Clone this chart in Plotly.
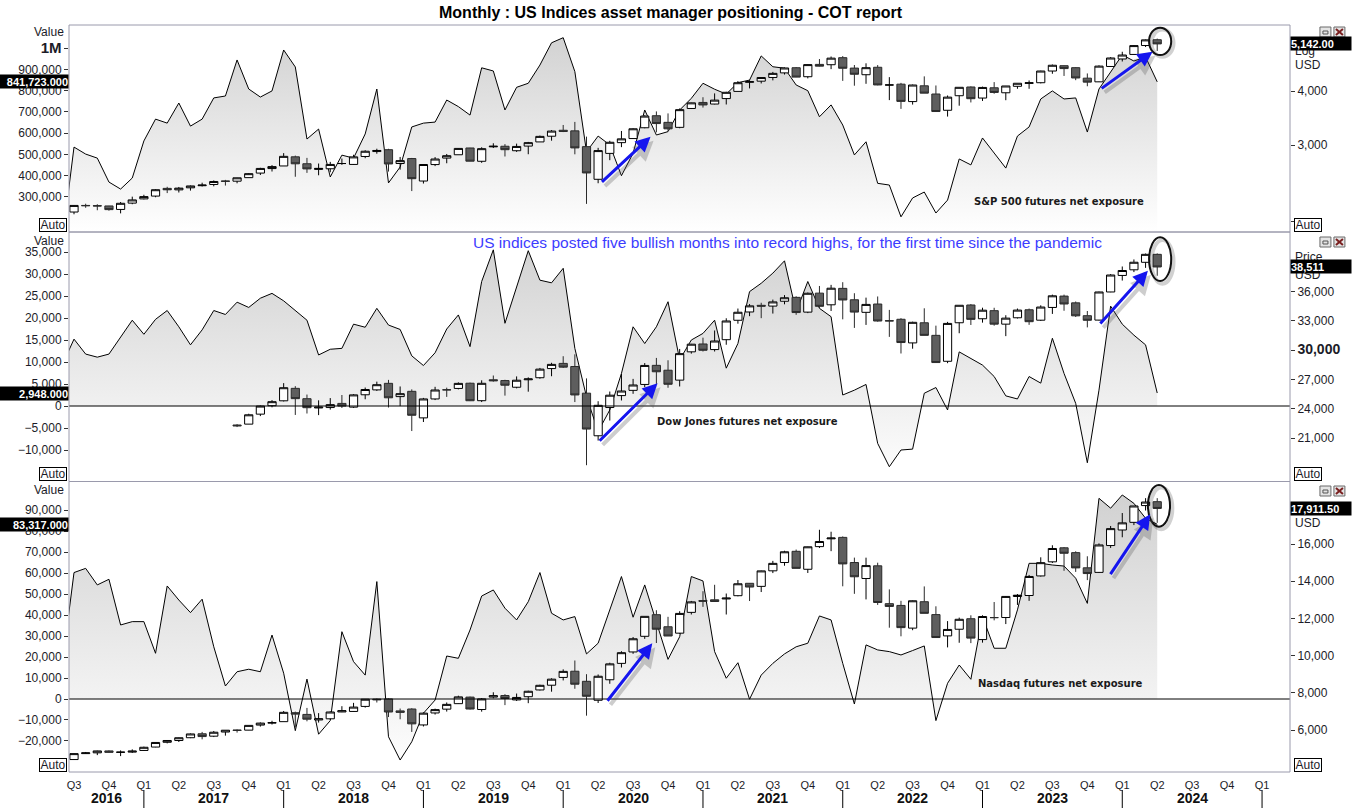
import math
import plotly.graph_objects as go

# ---------------- data ----------------
# month index: 0 = Jul 2016 ... 93 = Apr 2024
net_months = list(range(-1, 94))      # net exposure series (Jun 2016 .. Apr 2024)
price_months = list(range(0, 94))     # S&P / Nasdaq candles (Jul 2016 .. Apr 2024)
dow_months = list(range(14, 94))      # Dow candles (Sep 2017 .. Apr 2024)

spx_net = [95000,
    534000, 501000, 482000, 369000, 336000, 388000,
    563000, 666000, 647000, 742000, 633000, 666000,
    766000, 775000, 945000, 808000, 770000, 799000,
    992000, 912000, 572000, 619000, 393000, 496000,
    482000, 596000, 808000, 365000, 440000, 629000,
    647000, 652000, 756000, 725000, 685000, 908000,
    893000, 709000, 816000, 835000, 921000, 1026000,
    1050000, 890000, 512000, 586000, 544000, 399000,
    505000, 709000, 591000, 607000, 709000, 764000,
    835000, 807000, 784000, 838000, 850000, 964000,
    913000, 906000, 827000, 800000, 677000, 733000,
    638000, 497000, 559000, 363000, 355000, 205000,
    294000, 322000, 223000, 284000, 478000, 450000,
    577000, 506000, 435000, 586000, 629000, 761000,
    799000, 761000, 766000, 605000, 808000, 888000,
    969000, 940000, 959000, 841723]

dow_net = [9400,
    15200, 11800, 11100, 11800, 15600, 19500,
    16300, 19700, 21700, 18000, 13900, 17300,
    21700, 20800, 23600, 22400, 24500, 25600,
    23900, 21800, 19500, 11600, 12900, 13100,
    18600, 17900, 22200, 18400, 17400, 11400,
    9200, 12100, 17500, 20700, 13500, 28300,
    35500, 18800, 27100, 35300, 28600, 28000,
    31300, 13100, 2100, -5800, -900, 7400,
    18000, 14200, 18000, 23700, 10500, 15000,
    16500, 19500, 8600, 14200, 26000, 27900,
    30200, 33000, 21400, 28300, 22200, 20300,
    2500, 3600, 4900, -8500, -13800, -10000,
    -9800, 2900, 4200, -900, 12300, 10800,
    9300, 6700, 2300, 1600, 6700, 5200,
    15400, 7400, 600, -12900, 3600, 22700,
    18600, 16100, 13900, 2948]

ndx_net = [16700,
    60300, 62300, 54400, 57100, 35300, 36900,
    36900, 21800, 53900, 47200, 41200, 47600,
    24900, 6200, 13000, 14200, 13000, 30500,
    12300, -15100, 9500, -16800, -10300, 32100,
    17800, 11400, 56000, -18000, -29100, -20400,
    -6800, -500, 20500, 19400, 32900, 49100,
    52000, 43300, 37700, 46400, 60300, 40900,
    37700, 39300, 21500, 26600, 42500, 58400,
    39000, 54400, 36700, 18900, 29700, 58400,
    56300, 22600, 9900, 17300, -100, 11400,
    17000, 21500, 24900, 26600, 39600, 37700,
    17000, -2400, 25800, 23400, 22600, 21000,
    23100, 25300, -10300, 7500, 16200, 9400,
    39300, 24200, 24200, 42500, 64700, 64700,
    63900, 63400, 57600, 45600, 95700, 91000,
    97300, 93300, 86200, 83317]

spx_open = [2099, 2174, 2171, 2168, 2128, 2201,
    2251, 2285, 2381, 2362, 2388, 2415, 2431, 2477, 2474, 2521, 2583, 2646,
    2683, 2817, 2715, 2634, 2643, 2718, 2705, 2822, 2897, 2926, 2718, 2791,
    2476, 2703, 2798, 2848, 2953, 2751, 2971, 2980, 2910, 2983, 3050, 3144,
    3245, 3235, 2974, 2499, 2869, 3038, 3105, 3289, 3507, 3385, 3296, 3645,
    3764, 3732, 3842, 3992, 4191, 4216, 4300, 4406, 4529, 4317, 4610, 4602,
    4778, 4520, 4363, 4540, 4130, 4149, 3781, 4113, 3937, 3610, 3901, 4087,
    3853, 4070, 3963, 4102, 4166, 4181, 4450, 4578, 4530, 4284, 4201, 4559,
    4745, 4861, 5098, 5258]
spx_high = [2178, 2194, 2188, 2169, 2214, 2278,
    2301, 2371, 2401, 2399, 2418, 2454, 2484, 2491, 2520, 2582, 2657, 2695,
    2873, 2835, 2801, 2718, 2742, 2791, 2848, 2917, 2941, 2940, 2815, 2800,
    2708, 2813, 2860, 2950, 2955, 2964, 3028, 3014, 3022, 3050, 3155, 3248,
    3338, 3393, 3137, 2955, 3068, 3233, 3280, 3514, 3588, 3550, 3646, 3760,
    3870, 3950, 3983, 4218, 4238, 4302, 4429, 4537, 4546, 4608, 4744, 4808,
    4819, 4595, 4637, 4593, 4307, 4178, 4140, 4325, 4120, 3906, 4080, 4101,
    4095, 4195, 4110, 4170, 4232, 4458, 4607, 4584, 4541, 4393, 4587, 4793,
    4931, 5111, 5265, 5290]
spx_low = [2074, 2147, 2119, 2114, 2084, 2188,
    2245, 2271, 2322, 2329, 2353, 2405, 2407, 2417, 2446, 2520, 2557, 2605,
    2683, 2533, 2586, 2553, 2594, 2699, 2698, 2796, 2864, 2604, 2631, 2347,
    2443, 2681, 2722, 2848, 2751, 2728, 2952, 2822, 2892, 2856, 3050, 3070,
    3214, 2855, 2192, 2447, 2767, 2966, 3101, 3280, 3210, 3234, 3280, 3634,
    3662, 3725, 3723, 3992, 4056, 4165, 4234, 4367, 4306, 4279, 4560, 4495,
    4222, 4115, 4157, 4124, 3811, 3637, 3721, 3955, 3584, 3491, 3699, 3764,
    3794, 3943, 3809, 4048, 4048, 4166, 4385, 4335, 4238, 4103, 4197, 4547,
    4682, 4854, 5057, 4953]
spx_close = [2174, 2171, 2168, 2126, 2199, 2239,
    2279, 2364, 2363, 2384, 2412, 2423, 2470, 2472, 2519, 2575, 2648, 2674,
    2824, 2714, 2641, 2648, 2705, 2718, 2816, 2902, 2914, 2712, 2760, 2507,
    2704, 2784, 2834, 2946, 2752, 2942, 2980, 2926, 2977, 3038, 3141, 3231,
    3226, 2954, 2585, 2912, 3044, 3100, 3271, 3500, 3363, 3270, 3622, 3756,
    3714, 3811, 3973, 4181, 4204, 4298, 4395, 4523, 4308, 4605, 4567, 4766,
    4516, 4374, 4530, 4132, 4132, 3785, 4130, 3955, 3586, 3872, 4080, 3840,
    4077, 3970, 4109, 4169, 4180, 4450, 4589, 4508, 4288, 4194, 4568, 4770,
    4846, 5096, 5254, 5142]

dow_open = [22330, 22420, 23442, 24305,
    24809, 26084, 25024, 24076, 24117, 24542, 24161, 25426, 25926, 26598, 25237, 25780,
    23059, 24999, 25942, 26076, 26609, 24819, 26964, 26882, 26198, 26962, 27172, 28109,
    28639, 28320, 25591, 21227, 24120, 25342, 25879, 26483, 28439, 27940, 26925, 29823,
    30627, 30055, 31066, 33054, 33904, 34584, 34507, 35003, 35400, 33889, 35833, 34639,
    36322, 35153, 33868, 34718, 33009, 33156, 30737, 32798, 31511, 28855, 32800, 34619,
    33209, 34039, 32658, 33311, 34132, 33063, 34368, 35531, 34838, 33524, 33072, 35951,
    37644, 38222, 38990, 39807]
dow_high = [22420, 23485, 24328, 24877,
    26617, 26307, 25449, 24858, 25087, 25403, 25491, 26167, 26770, 26951, 26277, 25980,
    25106, 26241, 26155, 26696, 26669, 26907, 27399, 26962, 27306, 27209, 28175, 28702,
    29374, 29568, 27102, 24765, 25758, 27580, 27053, 28672, 29199, 28958, 30117, 30637,
    31272, 32010, 33259, 34256, 34712, 34849, 35171, 35631, 35510, 35892, 36566, 36680,
    36953, 35824, 35373, 35492, 34117, 33272, 32910, 34281, 32504, 32889, 34590, 34712,
    34342, 34335, 33572, 34257, 34257, 34588, 35679, 35679, 34977, 34004, 35986, 37778,
    38561, 39282, 39889, 39900]
dow_low = [22120, 22416, 23242, 24141,
    24742, 23360, 23509, 23344, 23908, 24077, 24078, 24965, 25823, 24122, 24268, 21713,
    22638, 24883, 25208, 25980, 24784, 24680, 26772, 25339, 26082, 25743, 27070, 27325,
    28169, 24681, 18214, 20735, 22789, 24843, 25524, 26211, 26537, 26144, 26277, 29639,
    29857, 29857, 30547, 32705, 33474, 33271, 33742, 34690, 33613, 33785, 34318, 34006,
    33150, 32272, 32579, 32913, 31353, 29653, 30143, 31510, 28715, 28661, 31727, 32573,
    32812, 32500, 31430, 33235, 32586, 32979, 33705, 34030, 33392, 32327, 33030, 35930,
    37122, 37990, 38421, 37611]
dow_close = [22250, 23377, 24272, 24719,
    26149, 25029, 24103, 24163, 24416, 24271, 25415, 25965, 26458, 25116, 25538, 23327,
    24999, 25916, 25929, 26593, 24815, 26600, 26864, 26403, 26917, 27046, 28051, 28538,
    28256, 25409, 21917, 24346, 25383, 25813, 26428, 28430, 27782, 26502, 29638, 30606,
    29983, 30932, 32982, 33875, 34529, 34503, 34935, 35361, 33844, 35820, 34484, 36338,
    35132, 33893, 34678, 32977, 32990, 30775, 32845, 31510, 28726, 32733, 34590, 33147,
    34086, 32657, 33274, 34098, 32908, 34408, 35560, 34722, 33508, 33053, 35951, 37690,
    38150, 38996, 39807, 38511]

ndx_open = [4411, 4730, 4772, 4876, 4800, 4811,
    4900, 5083, 5340, 5434, 5585, 5797, 5668, 5891, 5999, 5992, 6265, 6371,
    6448, 6931, 6838, 6540, 6602, 6971, 6998, 7268, 7660, 7671, 7028, 7129,
    6272, 6916, 7121, 7416, 7769, 7101, 7770, 7853, 7617, 7790, 8154, 8408,
    8827, 9160, 8618, 7599, 8701, 9583, 10196, 11037, 12199, 11551, 11206, 12324,
    12958, 13000, 13045, 13221, 13887, 13722, 14558, 15004, 15607, 14641, 15859, 16278,
    16356, 15004, 14144, 14827, 12792, 12697, 11478, 12897, 12204, 11059, 11417, 11982,
    10862, 12045, 12047, 13178, 13231, 14283, 15041, 15795, 15536, 14720, 14474, 15917,
    16753, 17165, 18065, 18275]
ndx_high = [4740, 4819, 4891, 4908, 4902, 4960,
    5106, 5330, 5457, 5597, 5815, 5897, 5947, 5990, 6030, 6250, 6408, 6497,
    7022, 6988, 7187, 6907, 7003, 7280, 7459, 7663, 7691, 7700, 7154, 7168,
    6947, 7148, 7480, 7844, 7794, 7720, 8028, 7926, 7960, 8113, 8436, 8780,
    9260, 9736, 9000, 8986, 9618, 10235, 10998, 12110, 12439, 12085, 12386, 12939,
    13463, 13807, 13337, 14064, 13903, 14572, 15093, 15637, 15701, 15860, 16765, 16660,
    16407, 15268, 15265, 14995, 13560, 12945, 12966, 13720, 12650, 11855, 12043, 12167,
    12167, 12880, 13204, 13311, 14336, 15284, 15932, 15837, 15607, 15340, 16034, 16969,
    17665, 18042, 18464, 18465]
ndx_low = [4390, 4723, 4650, 4787, 4596, 4764,
    4880, 5071, 5280, 5353, 5563, 5500, 5620, 5697, 5861, 5987, 6184, 6294,
    6448, 6142, 6468, 6400, 6548, 6960, 6982, 7204, 7478, 6697, 6577, 5896,
    6190, 6829, 6991, 7406, 7104, 6986, 7703, 7338, 7560, 7442, 8125, 8059,
    8665, 8216, 6771, 7451, 8486, 9360, 10096, 10900, 10677, 11053, 11167, 12210,
    12620, 12895, 12209, 13186, 12934, 13417, 14436, 14832, 14690, 14442, 15783, 15615,
    13725, 13321, 13021, 12725, 11500, 11037, 11365, 12272, 10971, 10441, 10690, 10671,
    10696, 11896, 11695, 12724, 12943, 14250, 14977, 14557, 14500, 14058, 14446, 15789,
    16361, 17017, 17801, 17138]
ndx_close = [4730, 4771, 4875, 4801, 4810, 4864,
    5071, 5330, 5436, 5584, 5788, 5647, 5880, 5989, 5979, 6248, 6371, 6396,
    6950, 6855, 6581, 6606, 6967, 7040, 7232, 7656, 7627, 6967, 6949, 6330,
    6906, 7097, 7378, 7781, 7128, 7671, 7848, 7692, 7750, 8083, 8403, 8733,
    9151, 8462, 7813, 8890, 9556, 10157, 10905, 12110, 11418, 11053, 12268, 12888,
    12925, 12909, 13091, 13861, 13686, 14554, 14959, 15582, 14690, 15850, 16135, 16320,
    14930, 14238, 14839, 12855, 12643, 11504, 12947, 12272, 10971, 11406, 11952, 10940,
    12102, 12042, 13181, 13246, 14254, 14996, 15758, 15501, 14715, 14410, 15948, 16826,
    17137, 18044, 18255, 17911.5]

quarter_pos = list(range(0, 103, 3))
quarter_labels = ["Q3", "Q4",
    "Q1", "Q2", "Q3", "Q4", "Q1", "Q2", "Q3", "Q4", "Q1", "Q2", "Q3", "Q4",
    "Q1", "Q2", "Q3", "Q4", "Q1", "Q2", "Q3", "Q4", "Q1", "Q2", "Q3", "Q4",
    "Q1", "Q2", "Q3", "Q4", "Q1", "Q2", "Q3", "Q4", "Q1"]
year_labels = ["2016", "2017", "2018", "2019", "2020", "2021", "2022", "2023", "2024"]
year_pos = [2.8, 12, 24, 36, 48, 60, 72, 84, 96]
year_breaks = [6, 18, 30, 42, 54, 66, 78, 90, 102]

spx_left_ticks = [300000, 400000, 500000, 600000, 700000, 800000, 900000, 1000000]
spx_left_text = ["300,000", "400,000", "500,000", "600,000", "700,000", "800,000", "900,000",
                 '<b><span style="font-size:15px">1M</span></b>']
spx_right_ticks = [2000, 3000, 4000]
spx_right_text = ["", "3,000", "4,000"]
dow_left_ticks = [-10000, -5000, 0, 5000, 10000, 15000, 20000, 25000, 30000, 35000]
dow_right_ticks = [21000, 24000, 27000, 30000, 33000, 36000]
dow_right_text = ["21,000", "24,000", "27,000", '<b><span style="font-size:14px">30,000</span></b>',
                  "33,000", "36,000"]
ndx_left_ticks = [-20000, -10000, 0, 10000, 20000, 30000, 40000, 50000, 60000, 70000, 80000, 90000]
ndx_right_ticks = [6000, 8000, 10000, 12000, 14000, 16000]

# annotation arrows: (tail month, tail value) -> (head month, head value) on left axes
spx_arrows = [((45.2, 363000), (49.5, 583000)), ((88.1, 806000), (92.6, 984000))]
dow_arrows = [((45.0, -8250), (50.1, 5160)), ((88.0, 18400), (92.2, 30750))]
ndx_arrows = [((45.7, -1570), (49.65, 26560)), ((88.9, 58800), (92.4, 88080))]
# circles around the last candle: (x0, x1, y0, y1) on left axes
spx_circle = (92.3, 94.2, 968000, 1097000)
dow_circle = (92.3, 94.2, 28400, 38350)
ndx_circle = (92.2, 94.1, 82200, 102000)

# ---------------- geometry ----------------
W, H = 1352, 808
PL, PR, PT, PB = 69, 1292, 25, 772


def fx(p):
    return (p - PL) / (PR - PL)


def fy(p):
    return (PB - p) / (PB - PT)


SPX_DOM = [fy(232), 1.0]
DOW_DOM = [fy(481.5), fy(232)]
NDX_DOM = [0.0, fy(481.5)]

SPX_L = [133490, 1109900]
SPX_R = [math.log10(1887), math.log10(5687)]
DOW_L = [-17160, 39550]
DOW_R = [16546, 42093]
NDX_L = [-34814, 103726]
NDX_R = [3742, 19360]

FONT = "Liberation Sans, Arial, sans-serif"
TF = dict(family=FONT, size=12, color="#1c1c28")
GRAD = [[0.0, "#ffffff"], [1.0, "#cfcfcf"]]
INC = dict(fillcolor="#ffffff", line=dict(color="#000000", width=1))
DEC = dict(fillcolor="#5e5e5e", line=dict(color="#2a2a2a", width=1))

fig = go.Figure()


def add_panel(net, yl, yr, rng, cx, o, h, l, c):
    fig.add_trace(go.Scatter(
        x=net_months, y=net, xaxis="x", yaxis=yl, mode="lines",
        line=dict(color="#000000", width=1), fill="tozeroy",
        fillgradient=dict(type="vertical", colorscale=GRAD, start=rng[0], stop=rng[1]),
        hoverinfo="skip", showlegend=False))
    fig.add_trace(go.Candlestick(
        x=cx, open=o, high=h, low=l, close=c, xaxis="x", yaxis=yr,
        increasing=INC, decreasing=DEC, whiskerwidth=0,
        hoverinfo="skip", showlegend=False))


add_panel(ndx_net, "y", "y2", NDX_L, price_months, ndx_open, ndx_high, ndx_low, ndx_close)
add_panel(dow_net, "y3", "y4", DOW_L, dow_months, dow_open, dow_high, dow_low, dow_close)
add_panel(spx_net, "y5", "y6", SPX_L, price_months, spx_open, spx_high, spx_low, spx_close)

common = dict(showgrid=False, zeroline=False, showline=False, ticks="outside", ticklen=4,
              tickcolor="#333333", tickfont=TF, fixedrange=True)

fig.update_layout(
    width=W, height=H,
    margin=dict(l=PL, r=W - PR, t=PT, b=H - PB, pad=0),
    paper_bgcolor="white", plot_bgcolor="white",
    showlegend=False,
    font=dict(family=FONT, size=12, color="#111111"),
    boxmode="overlay", boxgap=0.12, boxgroupgap=0.2,
    xaxis=dict(domain=[0, 1], anchor="y", range=[-0.43, 104.4], showgrid=False, zeroline=False,
               showline=False, tickvals=quarter_pos, ticktext=quarter_labels,
               ticks="outside", ticklen=3, tickcolor="rgba(0,0,0,0)",
               tickfont=dict(family=FONT, size=11, color="#1c1c28"),
               rangeslider=dict(visible=False), fixedrange=True),
    yaxis=dict(domain=NDX_DOM, anchor="x", side="left", range=NDX_L,
               tickvals=ndx_left_ticks, tickformat=",", **common),
    yaxis2=dict(overlaying="y", anchor="x", side="right", range=NDX_R,
                tickvals=ndx_right_ticks, tickformat=",", **common),
    yaxis3=dict(domain=DOW_DOM, anchor="x", side="left", range=DOW_L,
                tickvals=dow_left_ticks, tickformat=",", **common),
    yaxis4=dict(overlaying="y3", anchor="x", side="right", range=DOW_R,
                tickvals=dow_right_ticks, ticktext=dow_right_text, **common),
    yaxis5=dict(domain=SPX_DOM, anchor="x", side="left", range=SPX_L,
                tickvals=spx_left_ticks, ticktext=spx_left_text, **common),
    yaxis6=dict(overlaying="y5", anchor="x", side="right", type="log", range=SPX_R,
                tickvals=spx_right_ticks, ticktext=spx_right_text, **common),
)

shapes = []
annos = []

# zero lines
for yr in ("y3", "y"):
    shapes.append(dict(type="line", xref="paper", x0=0, x1=1, yref=yr, y0=0, y1=0,
                       line=dict(color="#000000", width=1), layer="above"))

# panel borders
BORDER = "#9a9aac"
for dom in (SPX_DOM, DOW_DOM, NDX_DOM):
    shapes.append(dict(type="rect", xref="paper", yref="paper", x0=0, x1=1, y0=dom[0], y1=dom[1],
                       line=dict(color=BORDER, width=1), fillcolor="rgba(0,0,0,0)", layer="above"))

# year separators and labels
for b in year_breaks:
    shapes.append(dict(type="line", xref="x", x0=b, x1=b, yref="paper", y0=fy(790), y1=fy(808),
                       line=dict(color="#000000", width=1)))
for lab, p in zip(year_labels, year_pos):
    annos.append(dict(text="<b>" + lab + "</b>", xref="x", x=p, yref="paper", y=fy(798),
                      showarrow=False, font=dict(family=FONT, size=14, color="#111111"),
                      xanchor="center", yanchor="middle"))

# circles around last candles
for (x0, x1, y0, y1), yr in ((spx_circle, "y5"), (dow_circle, "y3"), (ndx_circle, "y")):
    shapes.append(dict(type="circle", xref="x", yref=yr, x0=x0 + 0.2, x1=x1 + 0.2,
                       y0=y0 - (y1 - y0) * 0.06, y1=y1 - (y1 - y0) * 0.06,
                       line=dict(color="rgba(0,0,0,0.18)", width=4), layer="above"))
    shapes.append(dict(type="circle", xref="x", yref=yr, x0=x0, x1=x1, y0=y0, y1=y1,
                       line=dict(color="#111111", width=2), layer="above"))

# arrows (shadow + blue)
for arrows, yr in ((spx_arrows, "y5"), (dow_arrows, "y3"), (ndx_arrows, "y")):
    for (tx, tv), (hx, hv) in arrows:
        annos.append(dict(x=hx, y=hv, ax=tx, ay=tv, xref="x", yref=yr, axref="x", ayref=yr,
                          text="", showarrow=True, arrowhead=2, arrowsize=1, arrowwidth=4,
                          arrowcolor="rgba(80,80,80,0.28)", xshift=3, yshift=-4))
        annos.append(dict(x=hx, y=hv, ax=tx, ay=tv, xref="x", yref=yr, axref="x", ayref=yr,
                          text="", showarrow=True, arrowhead=2, arrowsize=1, arrowwidth=3,
                          arrowcolor="#1515ee"))

# title and texts
annos.append(dict(text="<b>Monthly : US Indices asset manager positioning - COT report</b>",
                  xref="paper", yref="paper", x=fx(672), y=fy(12), showarrow=False,
                  font=dict(family=FONT, size=16, color="#000000"), xanchor="center", yanchor="middle"))
annos.append(dict(text="US indices posted five bullish months into record highs, for the first time since the pandemic",
                  xref="paper", yref="paper", x=fx(789), y=fy(243), showarrow=False,
                  font=dict(family=FONT, size=15.5, color="#3c3cff"), xanchor="center", yanchor="middle"))
LBL = dict(family="DejaVu Sans, Verdana, sans-serif", size=10, color="#1a1a1a")
for txt, cx, cy in (("S&P 500 futures net exposure", 1061, 201),
                    ("Dow Jones futures net exposure", 749, 422),
                    ("Nasdaq futures net exposure", 1062, 683)):
    annos.append(dict(text="<b>" + txt + "</b>", xref="paper", yref="paper", x=fx(cx), y=fy(cy),
                      showarrow=False, font=LBL, xanchor="center", yanchor="middle"))

# "Value" captions and right captions
for cy in (32, 241, 490):
    annos.append(dict(text="Value", xref="paper", yref="paper", x=fx(66), y=fy(cy), showarrow=False,
                      font=TF, xanchor="right", yanchor="middle"))
for txt, cy in (("Log", 51), ("USD", 65), ("Price", 257), ("USD", 275), ("USD", 523)):
    annos.append(dict(text=txt, xref="paper", yref="paper", x=fx(1295), y=fy(cy), showarrow=False,
                      font=TF, xanchor="left", yanchor="middle"))

# "Auto" boxes
for cy in (225, 474.5, 765):
    for cx in (52.5, 1310.5):
        annos.append(dict(text="Auto", xref="paper", yref="paper", x=fx(cx), y=fy(cy), showarrow=False,
                          font=TF, xanchor="center", yanchor="middle", bgcolor="white",
                          bordercolor="#000000", borderwidth=1, borderpad=0, width=26, height=12))

# last-value labels (black boxes)
LB = dict(family=FONT, size=11, color="#ffffff")
for txt, yr, val in (("841,723.000", "y5", spx_net[-1]),
                     ("2,948.000", "y3", dow_net[-1]),
                     ("83,317.000", "y", ndx_net[-1])):
    annos.append(dict(text="<b>" + txt + "</b>", xref="paper", x=fx(69), yref=yr, y=val,
                      showarrow=False, font=LB, xanchor="right", yanchor="middle", align="right",
                      bgcolor="#000000", borderpad=0, width=69, height=13))
for txt, yr, val in (("5,142.00", "y6", math.log10(spx_close[-1])),
                     ("38,511", "y4", dow_close[-1]),
                     ("17,911.50", "y2", ndx_close[-1])):
    annos.append(dict(text="<b>" + txt + "</b>", xref="paper", x=fx(1292), yref=yr, y=val,
                      showarrow=False, font=LB, xanchor="left", yanchor="middle", align="left",
                      bgcolor="#000000", borderpad=0, width=60, height=13))

# window icons
for cy in (32, 242, 491):
    shapes.append(dict(type="rect", xref="paper", yref="paper", x0=fx(1322), x1=fx(1333),
                       y0=fy(cy + 5), y1=fy(cy - 5), line=dict(color="#6a6a6a", width=1), fillcolor="#e4e4e4"))
    shapes.append(dict(type="rect", xref="paper", yref="paper", x0=fx(1325), x1=fx(1330),
                       y0=fy(cy + 2), y1=fy(cy - 1), line=dict(color="#555555", width=1), fillcolor="#e4e4e4"))
    shapes.append(dict(type="rect", xref="paper", yref="paper", x0=fx(1336), x1=fx(1347),
                       y0=fy(cy + 5), y1=fy(cy - 5), line=dict(color="#6a6a6a", width=1), fillcolor="#e4e4e4"))
    shapes.append(dict(type="line", xref="paper", yref="paper", x0=fx(1338), x1=fx(1345),
                       y0=fy(cy + 3), y1=fy(cy - 3), line=dict(color="#7a2020", width=2)))
    shapes.append(dict(type="line", xref="paper", yref="paper", x0=fx(1338), x1=fx(1345),
                       y0=fy(cy - 3), y1=fy(cy + 3), line=dict(color="#7a2020", width=2)))

fig.update_layout(shapes=shapes, annotations=annos)

fig.write_html("out.html", include_plotlyjs=True, full_html=True,
               config={"displayModeBar": False},
               post_script="document.body.style.margin='0';document.body.style.overflow='hidden';")
